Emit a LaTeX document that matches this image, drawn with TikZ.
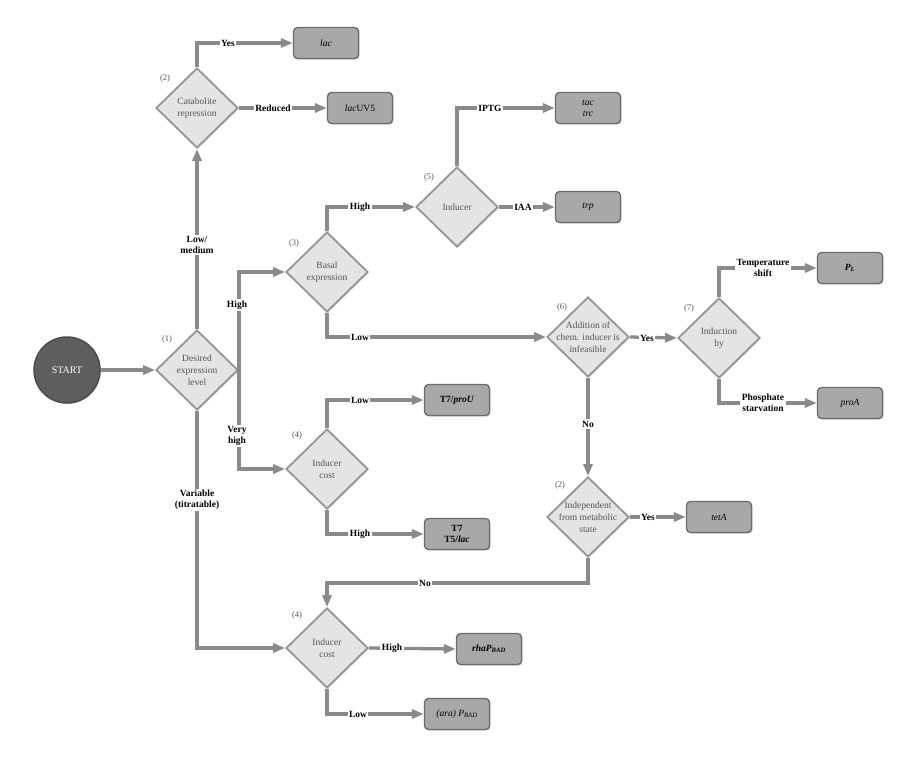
\documentclass[tikz,border=0pt]{standalone}
\usepackage{fontspec}
\setmainfont{Liberation Serif}
\usetikzlibrary{shapes.geometric,arrows.meta,shadows}
\definecolor{lineg}{HTML}{8A8A8A}
\definecolor{diaf}{HTML}{E4E4E4}
\definecolor{diab}{HTML}{959595}
\definecolor{boxf}{HTML}{A8A8A8}
\definecolor{boxb}{HTML}{6A6A6A}
\definecolor{startf}{HTML}{5E5E5E}
\definecolor{txtg}{HTML}{555555}
\begin{document}
\begin{tikzpicture}[x=1pt,y=-1pt,
  dia/.style={diamond, minimum width=82pt, minimum height=80pt, inner sep=0pt,
    fill=diaf, draw=diab, line width=1.8pt, drop shadow={shadow xshift=1pt,shadow yshift=-1pt,opacity=0.3}},
  diatext/.style={align=center, text=txtg, font=\fontsize{9.5}{12}\selectfont, inner sep=0pt},
  boxnode/.style={rounded corners=4pt, fill=boxf, draw=boxb, line width=1.3pt,
    minimum width=65pt, minimum height=31pt, inner sep=1pt, align=center,
    font=\fontsize{9.5}{11}\selectfont,
    drop shadow={shadow xshift=1.2pt,shadow yshift=-1.2pt,opacity=0.35}},
  boldbox/.style={boxnode, font=\bfseries\fontsize{9.5}{11}\selectfont},
  arr/.style={draw=lineg, line width=3.3pt, -{Triangle[length=12pt,width=9pt]}, color=lineg},
  lab/.style={fill=white, font=\bfseries\fontsize{9.5}{11}\selectfont, inner sep=1.5pt, align=center},
  num/.style={text=txtg, font=\fontsize{8.5}{9}\selectfont, inner sep=0pt}
]
\useasboundingbox[fill=white] (0,0) rectangle (917,765);

% start
\node[circle, minimum size=66pt, fill=startf, draw=black!70, line width=1.5pt, text=white,
      font=\fontsize{10}{11}\selectfont, drop shadow={shadow xshift=1pt,shadow yshift=-1pt,opacity=0.3}] (start) at (67,370) {START};

% diamonds
\node[dia] (d1) at (197,370) {};
\node[dia] (d2) at (197,108) {};
\node[dia] (d3) at (327,272) {};
\node[dia] (d5) at (457,207) {};
\node[dia] (d6) at (588,337) {};
\node[dia] (d7) at (719,338) {};
\node[dia] (d2b) at (588,517) {};
\node[dia] (d4) at (327,469) {};
\node[dia] (d4b) at (327,648) {};

\node[diatext] (d1t) at (d1) {Desired\\expression\\level};
\node[diatext] (d2t) at (d2) {Catabolite\\repression};
\node[diatext] (d3t) at (d3) {Basal\\expression};
\node[diatext] (d5t) at (d5) {Inducer};
\node[diatext] (d6t) at (d6) {Addition of\\chem. inducer is\\infeasible};
\node[diatext] (d7t) at (d7) {Induction\\by};
\node[diatext] (d2bt) at (d2b) {Independent\\from metabolic\\state};
\node[diatext] (d4t) at (d4) {Inducer\\cost};
\node[diatext] (d4bt) at (d4b) {Inducer\\cost};

% numbers
\node[num] (n2) at (165,78) {(2)};
\node[num] (n1) at (167,339) {(1)};
\node[num] (n3) at (294,243) {(3)};
\node[num] (n5) at (429,177) {(5)};
\node[num] (n6) at (562,307) {(6)};
\node[num] (n7) at (689,308) {(7)};
\node[num] (n2b) at (560,485) {(2)};
\node[num] (n4) at (297,435) {(4)};
\node[num] (n4b) at (297,615) {(4)};

% boxes
\node[boxnode] (lac) at (326,43) {\textit{lac}};
\node[boxnode] (lacuv) at (360,108) {\textit{lac}UV5};
\node[boxnode] (tac) at (588,108) {\textit{tac}\\\textit{trc}};
\node[boxnode] (trp) at (588,207) {\textit{trp}};
\node[boldbox] (pl) at (850,268) {\textit{P}\textsubscript{\textit{L}}};
\node[boxnode] (proa) at (850,403) {\textit{proA}};
\node[boxnode] (teta) at (719,517) {\textit{tetA}};
\node[boldbox] (t7prou) at (457,400) {T7/\textit{proU}};
\node[boldbox] (t7t5) at (457,534) {T7\\T5/\textit{lac}};
\node[boldbox] (rha) at (489,649) {\textit{rhaP}\textsubscript{\textit{BAD}}};
\node[boxnode] (ara) at (457,714) {\textit{(ara) P}\textsubscript{\textit{BAD}}};

\coordinate (c1) at (588,583);

% connectors
\draw[arr] (start) -- (d1.west);
\draw[arr] (d1.north) -- (d2.south);
\draw[arr] (d2.north) |- (lac.west);
\draw[arr] (d2.east) -- (lacuv.west);
\draw[arr] (d1.east) |- (d3.west);
\draw[arr] (d1.east) |- (d4.west);
\draw[arr] (d1.south) |- (d4b.west);
\draw[arr] (d3.north) |- (d5.west);
\draw[arr] (d5.north) |- (tac.west);
\draw[arr] (d5.east) -- (trp.west);
\draw[arr] (d3.south) |- (d6.west);
\draw[arr] (d6.east) -- (d7.west);
\draw[arr] (d7.north) |- (pl.west);
\draw[arr] (d7.south) |- (proa.west);
\draw[arr] (d6.south) -- (d2b.north);
\draw[arr] (d2b.east) -- (teta.west);
\draw[arr] (d2b.south) -- (c1) -| (d4b.north);
\draw[arr] (d4.north) |- (t7prou.west);
\draw[arr] (d4.south) |- (t7t5.west);
\draw[arr] (d4b.east) -- (rha.west);
\draw[arr] (d4b.south) |- (ara.west);

% labels
\node[lab] (lyes1) at (228,43) {Yes};
\node[lab] (lred) at (273,108) {Reduced};
\node[lab] (llowmed) at (197,245) {Low/\\medium};
\node[lab] (lhigh1) at (237,305) {High};
\node[lab] (lvh) at (237,436) {Very\\high};
\node[lab] (lvar) at (197,500) {Variable\\(titratable)};
\node[lab] (lhigh2) at (360,207) {High};
\node[lab] (liptg) at (490,108) {IPTG};
\node[lab] (liaa) at (523,207) {IAA};
\node[lab] (llow1) at (360,337) {Low};
\node[lab] (lyes2) at (647,338) {Yes};
\node[lab] (ltemp) at (763,268) {Temperature\\shift};
\node[lab] (lphos) at (763,403) {Phosphate\\starvation};
\node[lab] (lno1) at (588,424) {No};
\node[lab] (lyes3) at (648,517) {Yes};
\node[lab] (lno2) at (425,583) {No};
\node[lab] (llow2) at (360,400) {Low};
\node[lab] (lhigh3) at (360,534) {High};
\node[lab] (lhigh4) at (392,648) {High};
\node[lab] (llow3) at (358,714) {Low};
\end{tikzpicture}
\end{document}
